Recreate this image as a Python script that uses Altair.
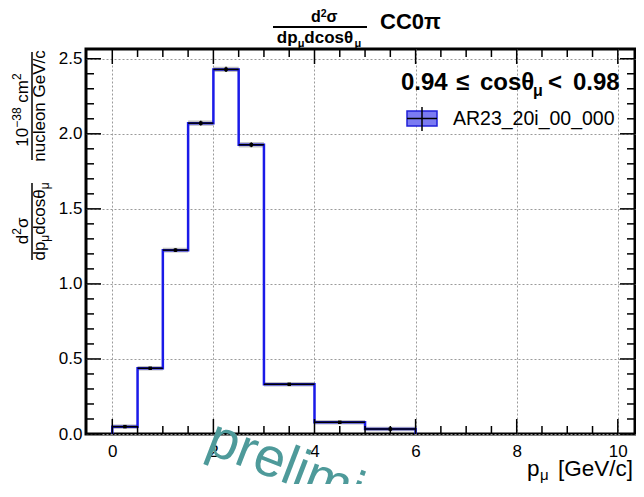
import altair as alt
import pandas as pd

FONT = "Liberation Sans"

# ---- data -------------------------------------------------------------
bin_lo = [0.0, 0.5, 1.0, 1.5, 2.0, 2.5, 3.0, 4.0, 5.0]
bin_hi = [0.5, 1.0, 1.5, 2.0, 2.5, 3.0, 4.0, 5.0, 6.0]
xsec = [0.049, 0.438, 1.225, 2.071, 2.429, 1.927, 0.331, 0.078, 0.033]
stat_err = [0.006, 0.008, 0.012, 0.016, 0.018, 0.016, 0.008, 0.005, 0.004]
band_err = [0.015, 0.015, 0.016, 0.018, 0.018, 0.018, 0.015, 0.015, 0.015]

x_major = [0, 2, 4, 6, 8, 10]
x_minor = [v * 0.5 for v in range(0, 21) if (v * 0.5) % 2 != 0]
y_major = [0.0, 0.5, 1.0, 1.5, 2.0, 2.5]
y_minor = [round(v * 0.1, 2) for v in range(0, 26) if v % 5 != 0]

W, H = 549, 385
XDOM = [-0.52, 10.34]
YDOM = [0.0, 2.565]

bins = pd.DataFrame({
    "lo": bin_lo, "hi": bin_hi, "v": xsec,
    "mid": [(a + b) / 2 for a, b in zip(bin_lo, bin_hi)],
    "elo": [v - e for v, e in zip(xsec, stat_err)],
    "ehi": [v + e for v, e in zip(xsec, stat_err)],
    "blo": [v - e for v, e in zip(xsec, band_err)],
    "bhi": [v + e for v, e in zip(xsec, band_err)],
})

step_x = [bin_lo[0]] + bin_lo + [bin_hi[-1]]
step_y = [0.0] + xsec + [0.0]
step = pd.DataFrame({"x": step_x, "y": step_y, "i": list(range(len(step_x)))})

one = pd.DataFrame({"a": [0]})

xscale = alt.Scale(domain=XDOM, nice=False, zero=False)
yscale = alt.Scale(domain=YDOM, nice=False, zero=False)
xaxis = alt.Axis(values=x_major, grid=True, gridDash=[2, 2], gridColor="#9a9a9a",
                 gridWidth=1, domain=False, ticks=False, tickSize=0,
                 labelFontSize=17, labelPadding=9, labelFont=FONT,
                 labelColor="black", title=None, format="d")
yaxis = alt.Axis(values=y_major, grid=True, gridDash=[2, 2], gridColor="#9a9a9a",
                 gridWidth=1, domain=False, ticks=False, tickSize=0,
                 labelFontSize=17, labelPadding=4, labelFont=FONT,
                 labelColor="black", title=None, format=".1f")


def X(f):
    return alt.X(f, type="quantitative", scale=xscale, axis=xaxis)


def Y(f):
    return alt.Y(f, type="quantitative", scale=yscale, axis=yaxis)


layers = []

layers.append(alt.Chart(bins).mark_rect(color="#9a9a9a", opacity=0.6).encode(
    x=X("lo"), x2="hi", y=Y("blo"), y2="bhi"))
layers.append(alt.Chart(step).mark_line(color="#1a1ae8", strokeWidth=2.5,
                                         interpolate="step-after").encode(
    x=X("x"), y=Y("y"), order=alt.Order("i:Q")))
layers.append(alt.Chart(bins).mark_rule(color="black", strokeWidth=1.5).encode(
    x=X("lo"), x2="hi", y=Y("v")))
layers.append(alt.Chart(bins).mark_rule(color="black", strokeWidth=1.5).encode(
    x=X("mid"), y=Y("elo"), y2="ehi"))
layers.append(alt.Chart(bins).mark_point(shape="square", filled=True, color="black",
                                         size=12, opacity=1).encode(
    x=X("mid"), y=Y("v")))

xmaj = pd.DataFrame({"t": x_major})
xmin = pd.DataFrame({"t": x_minor})
ymaj = pd.DataFrame({"t": y_major})
ymin = pd.DataFrame({"t": y_minor})
TK = 1.5
for df, L in [(xmaj, 15), (xmin, 8)]:
    layers.append(alt.Chart(df).mark_rule(color="black", strokeWidth=TK).encode(
        x=X("t"), y=alt.value(H), y2=alt.value(H - L)))
    layers.append(alt.Chart(df).mark_rule(color="black", strokeWidth=TK).encode(
        x=X("t"), y=alt.value(0), y2=alt.value(L)))
for df, L in [(ymaj, 15), (ymin, 8)]:
    layers.append(alt.Chart(df).mark_rule(color="black", strokeWidth=TK).encode(
        y=Y("t"), x=alt.value(0), x2=alt.value(L)))
    layers.append(alt.Chart(df).mark_rule(color="black", strokeWidth=TK).encode(
        y=Y("t"), x=alt.value(W), x2=alt.value(W - L)))

# approximate glyph advance widths (em) for Liberation Sans
REG = {"d": .556, "p": .556, "c": .5, "o": .556, "s": .5, "n": .556, "u": .556,
       "l": .222, "e": .556, "G": .778, "V": .667, "/": .278, "[": .278,
       "]": .278, "m": .833, "−": .584, "μ": .576, "θ": .556, "σ": .6, " ": .278,
       "1": .556, "0": .556, "2": .556, "3": .556, "8": .556}
BLD = {"d": .611, "p": .611, "c": .556, "o": .611, "s": .556, "θ": .611,
       "μ": .611, "σ": .65, "2": .556, " ": .278}


def width(s, size, bold):
    t = BLD if bold else REG
    return sum(t.get(ch, .556) for ch in s) * size


def txt(s, x, y, size, bold=False, angle=0, align="left", baseline="alphabetic",
        color="black"):
    return alt.Chart(one).mark_text(
        text=s, fontSize=size, fontWeight="bold" if bold else "normal",
        angle=angle, align=align, baseline=baseline, color=color, font=FONT
    ).encode(x=alt.value(x), y=alt.value(y))


def seg(x1, x2, y1, y2, w, color="black"):
    return alt.Chart(one).mark_rule(color=color, strokeWidth=w).encode(
        x=alt.value(x1), x2=alt.value(x2), y=alt.value(y1), y2=alt.value(y2))


def hrow(pieces, xc, base, bold=False):
    """pieces: (text, size, shift) ; shift>0 moves down (subscript)"""
    tot = sum(width(p, s, bold) for p, s, _ in pieces)
    x = xc - tot / 2
    out = []
    for p, s, sh in pieces:
        lead = len(p) - len(p.lstrip(" "))
        x += width(" " * lead, s, bold)
        q = p.lstrip(" ")
        out.append(txt(q, x, base + sh, s, bold=bold))
        x += width(q, s, bold)
    return out


def vrow(pieces, yc, base, bold=False):
    """rotated 270; shift>0 moves toward subscript side (right)"""
    tot = sum(width(p, s, bold) for p, s, _ in pieces)
    y = yc + tot / 2
    out = []
    for p, s, sh in pieces:
        lead = len(p) - len(p.lstrip(" "))
        y -= width(" " * lead, s, bold)
        q = p.lstrip(" ")
        out.append(txt(q, base + sh, y, s, bold=bold, angle=270))
        y -= width(q, s, bold)
    return out


# ---- title -------------------------------------------------------------
layers += hrow([("d", 16, 0), ("2", 10.5, -5), ("σ", 16, 0)], 238, -27, bold=True)
layers.append(seg(187, 281, -22, -22, 2))
layers += hrow([("dp", 17, 0), ("μ", 11, 4), ("dcosθ", 17, 0), ("μ", 11, 4)],
               233, -6, bold=True)
layers.append(txt("CC0π", 294, -20, 22, bold=True))

# ---- y title (rotated) -------------------------------------------------
layers += vrow([("10", 17, 0), ("−38", 12, -7), (" cm", 17, 0), ("2", 12, -7)],
               61, -58)
layers.append(seg(-54, -54, 3, 111, 1.5))
layers.append(txt("nucleon GeV/c", -41, 57, 17, angle=270, align="center"))
layers += vrow([("d", 17, 0), ("2", 12, -7), ("σ", 17, 0)], 182, -58)
layers.append(seg(-54, -54, 134, 211, 1.5))
layers += vrow([("dp", 17, 0), ("μ", 12, 4), ("dcosθ", 17, 0), ("μ", 12, 4)],
               172.5, -41)

# ---- x title -----------------------------------------------------------
layers.append(txt("p", 441, 427, 22.5))
layers.append(txt("μ", 454, 431, 15))
layers.append(txt("[GeV/c]", 472, 427, 22.5))

# ---- legend ------------------------------------------------------------
layers.append(txt("0.94", 315, 41, 24, bold=True))
layers.append(txt("≤", 370, 41, 24, bold=True))
layers.append(txt("cosθ", 394, 41, 24, bold=True))
layers.append(txt("μ", 447, 47, 16, bold=True))
layers.append(txt("<", 462, 41, 24, bold=True))
layers.append(txt("0.98", 487, 41, 24, bold=True))

layers.append(alt.Chart(one).mark_rect(fill="#7b7bf2", stroke="#2020d8",
                                       strokeWidth=1.5).encode(
    x=alt.value(321), x2=alt.value(351), y=alt.value(62), y2=alt.value(77)))
layers.append(seg(321, 351, 69.5, 69.5, 1.5))
layers.append(seg(336, 336, 58, 82, 1.5))
layers.append(txt("AR23_20i_00_000", 367, 76, 19.5))

# ---- watermark ---------------------------------------------------------
layers.append(txt("preliminary", 118, 403, 55, angle=21, color="#4e9a9a"))

chart = alt.layer(*layers).properties(
    width=W, height=H,
    padding={"left": 78, "top": 41, "right": 1, "bottom": 50},
    autosize=alt.AutoSizeParams(type="none"),
).configure_view(stroke="black", strokeWidth=3)

chart.save("out.html", embed_options={"renderer": "svg", "actions": False})
